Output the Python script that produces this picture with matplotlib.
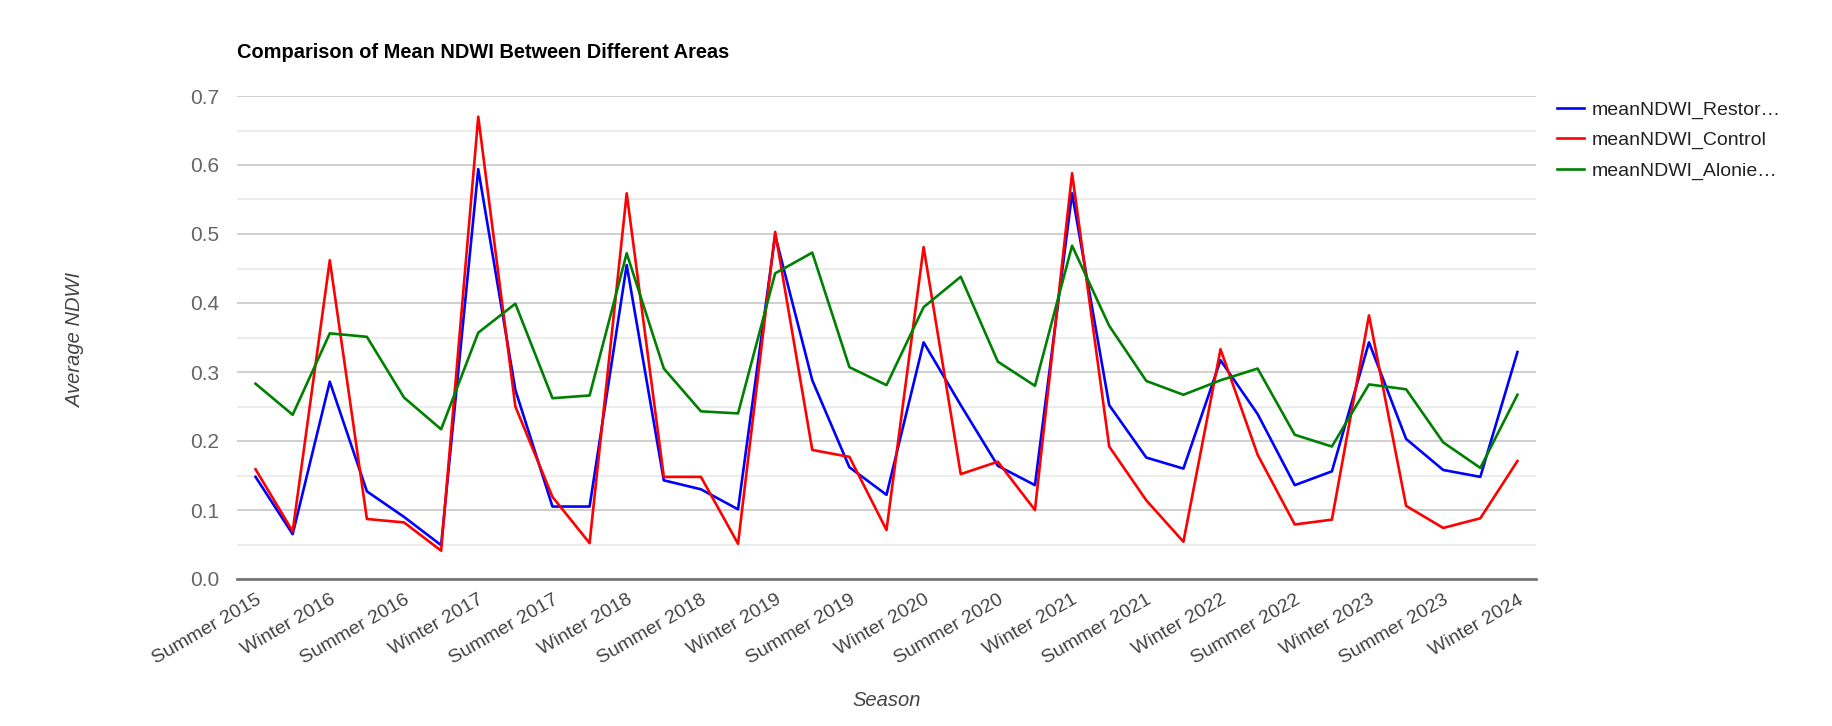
import matplotlib
matplotlib.use("Agg")
import matplotlib.pyplot as plt
from matplotlib.ticker import MultipleLocator

plt.rcParams['font.family'] = ['Liberation Sans', 'DejaVu Sans']

# Seasons (only every second one gets a label on the axis)
seasons = [
    "Summer 2015", "Autumn 2016", "Winter 2016", "Spring 2016",
    "Summer 2016", "Autumn 2017", "Winter 2017", "Spring 2017",
    "Summer 2017", "Autumn 2018", "Winter 2018", "Spring 2018",
    "Summer 2018", "Autumn 2019", "Winter 2019", "Spring 2019",
    "Summer 2019", "Autumn 2020", "Winter 2020", "Spring 2020",
    "Summer 2020", "Autumn 2021", "Winter 2021", "Spring 2021",
    "Summer 2021", "Autumn 2022", "Winter 2022", "Spring 2022",
    "Summer 2022", "Autumn 2023", "Winter 2023", "Spring 2023",
    "Summer 2023", "Autumn 2024", "Winter 2024",
]

# mean NDWI per area
restored = [0.148, 0.065, 0.286, 0.127, 0.090, 0.049, 0.594, 0.274, 0.105,
            0.105, 0.455, 0.143, 0.130, 0.101, 0.498, 0.288, 0.162, 0.122,
            0.343, 0.252, 0.164, 0.136, 0.559, 0.252, 0.176, 0.160, 0.317,
            0.239, 0.136, 0.156, 0.343, 0.203, 0.158, 0.148, 0.329]
control = [0.159, 0.069, 0.462, 0.087, 0.082, 0.041, 0.670, 0.250, 0.119,
           0.052, 0.559, 0.148, 0.148, 0.051, 0.503, 0.187, 0.177, 0.071,
           0.481, 0.152, 0.170, 0.100, 0.588, 0.192, 0.114, 0.054, 0.333,
           0.180, 0.079, 0.086, 0.382, 0.106, 0.074, 0.088, 0.171]
alonie = [0.283, 0.238, 0.356, 0.351, 0.263, 0.217, 0.357, 0.399, 0.262,
          0.266, 0.472, 0.305, 0.243, 0.240, 0.443, 0.473, 0.307, 0.281,
          0.394, 0.438, 0.315, 0.280, 0.483, 0.367, 0.287, 0.267, 0.288,
          0.305, 0.209, 0.192, 0.282, 0.275, 0.198, 0.161, 0.267]

W, H = 1832, 726
fig = plt.figure(figsize=(W / 100, H / 100), dpi=100)
ax = fig.add_axes([237 / W, 1 - 579 / H, (1536 - 237) / W, (579 - 96) / H])

x = list(range(len(seasons)))
ax.plot(x, restored, color='#0000ff', lw=1.9, label='meanNDWI_Restor…')
ax.plot(x, control, color='#ff0000', lw=1.9, label='meanNDWI_Control')
ax.plot(x, alonie, color='#008000', lw=1.9, label='meanNDWI_Alonie…')

ax.set_xlim(-0.5, len(seasons) - 0.5)
ax.set_ylim(0, 0.7)

# gridlines: major every 0.1, minor every 0.05
ax.yaxis.set_major_locator(MultipleLocator(0.1))
ax.yaxis.set_minor_locator(MultipleLocator(0.05))
ax.grid(True, which='major', axis='y', color='#cccccc', lw=1.3)
ax.grid(True, which='minor', axis='y', color='#ebebeb', lw=1.3)
ax.set_axisbelow(True)
ax.set_yticklabels([f"{v:.1f}" for v in ax.get_yticks()])
ax.tick_params(axis='y', which='both', length=0, pad=13, labelsize=15,
               labelcolor='#666666')

ax.set_xticks(x[::2])
ax.set_xticklabels(seasons[::2], rotation=30, ha='right', va='top',
                   rotation_mode='anchor', fontsize=14, color='#444444')
ax.tick_params(axis='x', length=0, pad=9)

for s in ['top', 'right', 'left']:
    ax.spines[s].set_visible(False)
ax.spines['bottom'].set_color('#777777')
ax.spines['bottom'].set_linewidth(2)
ax.spines['bottom'].set_zorder(5)

fig.text(237 / W, 1 - 53 / H, 'Comparison of Mean NDWI Between Different Areas',
         fontsize=14.4, fontweight='bold', color='#000000', ha='left', va='center')
fig.text(76 / W, 1 - 340 / H, 'Average NDWI', rotation=90, style='italic',
         fontsize=14.5, color='#444444', ha='center', va='center')
fig.text(887 / W, 1 - 700 / H, 'Season', style='italic',
         fontsize=14.5, color='#444444', ha='center', va='center')

fig.legend(loc='upper left', bbox_to_anchor=(1557 / W, 1 - 101 / H),
           frameon=False, fontsize=14, handlelength=1.4, handletextpad=0.36,
           labelspacing=0.65, borderpad=0, borderaxespad=0, labelcolor='#222222')

fig.savefig('out.png', dpi=100)
